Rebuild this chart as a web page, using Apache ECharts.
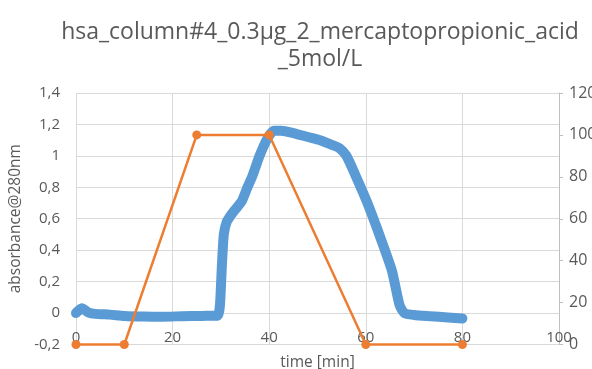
<!DOCTYPE html>
<html>
<head>
<meta charset="utf-8">
<script src="https://cdn.jsdelivr.net/npm/echarts@6/dist/echarts.min.js"></script>
<style>
  html, body { margin: 0; padding: 0; background: #fff; }
  #chart { width: 592px; height: 369px; }
</style>
</head>
<body>
<div id="chart"></div>
<script>
// Absorbance trace (time in min, absorbance at 280 nm)
const traceTime = [0, 1.2, 2.5, 4, 7, 10, 14, 18, 22, 26, 29.3, 29.8, 30.2, 30.6, 31.2, 32, 33, 34.3, 35.5, 36.5, 38, 39.8, 41, 42.5, 45, 48, 50.5, 53, 54.5, 56, 57.8, 60.2, 62.9, 65.4, 67, 68, 70, 73.3, 77, 80];
const traceAbs  = [0, 0.03, 0.005, -0.005, -0.01, -0.018, -0.022, -0.023, -0.02, -0.018, -0.017, 0.05, 0.3, 0.5, 0.58, 0.62, 0.66, 0.71, 0.8, 0.87, 1.0, 1.12, 1.16, 1.16, 1.145, 1.12, 1.10, 1.07, 1.05, 1.0, 0.88, 0.71, 0.49, 0.27, 0.05, 0.0, -0.012, -0.02, -0.028, -0.034];

// Gradient programme (time in min, percent)
const gradTime = [0, 10, 25, 40, 60, 80];
const gradPct  = [0, 0, 100, 100, 0, 0];

const titleLines = ['hsa_column#4_0.3µg_2_mercaptopropionic_acid', '_5mol/L'];
const xAxisName = 'time [min]';
const yAxisName = 'absorbance@280nm';

const absMin = -0.2, absMax = 1.4;

const FONT = 'Open Sans';
const TXT = '#595959';
const GRID = '#d9d9d9';

const W = 592, H = 369;
const gridBox = { left: 76, right: 33, top: 93, bottom: 24.5 };
// the time axis sits on the zero line of the absorbance axis
const plotH = H - gridBox.top - gridBox.bottom;
const zeroLift = plotH * (0 - absMin) / (absMax - absMin);

const chart = echarts.init(document.getElementById('chart'), null, { renderer: 'canvas' });

chart.setOption({
  animation: false,
  backgroundColor: '#ffffff',
  textStyle: { fontFamily: FONT },
  title: {
    text: titleLines.join('\n'),
    left: 315,
    top: 14,
    textAlign: 'center',
    textStyle: { fontFamily: FONT, fontSize: 23, fontWeight: 'normal', color: TXT, lineHeight: 27 }
  },
  grid: Object.assign({ outerBoundsMode: 'none', containLabel: false }, gridBox),
  xAxis: {
    type: 'value',
    min: 0, max: 100, interval: 20,
    offset: -zeroLift,
    name: xAxisName,
    nameLocation: 'middle',
    nameGap: 42,
    nameTextStyle: { color: TXT, fontSize: 15.5, fontFamily: FONT },
    axisLine: { show: true, onZero: false, lineStyle: { color: GRID, width: 1 } },
    axisTick: { show: false },
    axisLabel: { color: TXT, fontSize: 15, margin: 17, fontFamily: FONT },
    splitLine: { show: true, lineStyle: { color: GRID, width: 1 } }
  },
  yAxis: [
    {
      type: 'value',
      min: absMin, max: absMax, interval: 0.2,
      name: yAxisName,
      nameLocation: 'middle',
      nameRotate: 90,
      nameGap: 47,
      nameTextStyle: { color: TXT, fontSize: 15.5, fontFamily: FONT },
      axisLine: { show: false, onZero: false },
      axisTick: { show: false },
      axisLabel: {
        color: TXT, fontSize: 15, margin: 16, fontFamily: FONT,
        formatter: v => String(Math.round(v * 10) / 10).replace('.', ',')
      },
      splitLine: { show: true, lineStyle: { color: GRID, width: 1 } }
    },
    {
      type: 'value',
      position: 'right',
      min: 0, max: 120, interval: 20,
      axisLine: { show: true, onZero: false, lineStyle: { color: '#bfbfbf', width: 1 } },
      axisTick: { show: true, inside: false, length: 4, lineStyle: { color: '#bfbfbf' } },
      axisLabel: { color: TXT, fontSize: 16, margin: 10, fontFamily: FONT },
      splitLine: { show: false }
    }
  ],
  series: [
    {
      name: 'absorbance',
      type: 'line',
      yAxisIndex: 0,
      data: traceTime.map((t, i) => [t, traceAbs[i]]),
      showSymbol: false,
      symbol: 'none',
      smooth: 0.2,
      lineStyle: { color: '#5b9bd5', width: 10, cap: 'round', join: 'round' },
      z: 2
    },
    {
      name: 'gradient',
      type: 'line',
      yAxisIndex: 1,
      data: gradTime.map((t, i) => [t, gradPct[i]]),
      symbol: 'circle',
      symbolSize: 9,
      clip: false,
      itemStyle: { color: '#ed7d31' },
      lineStyle: { color: '#ed7d31', width: 2.5 },
      z: 3
    }
  ]
});
</script>
</body>
</html>
